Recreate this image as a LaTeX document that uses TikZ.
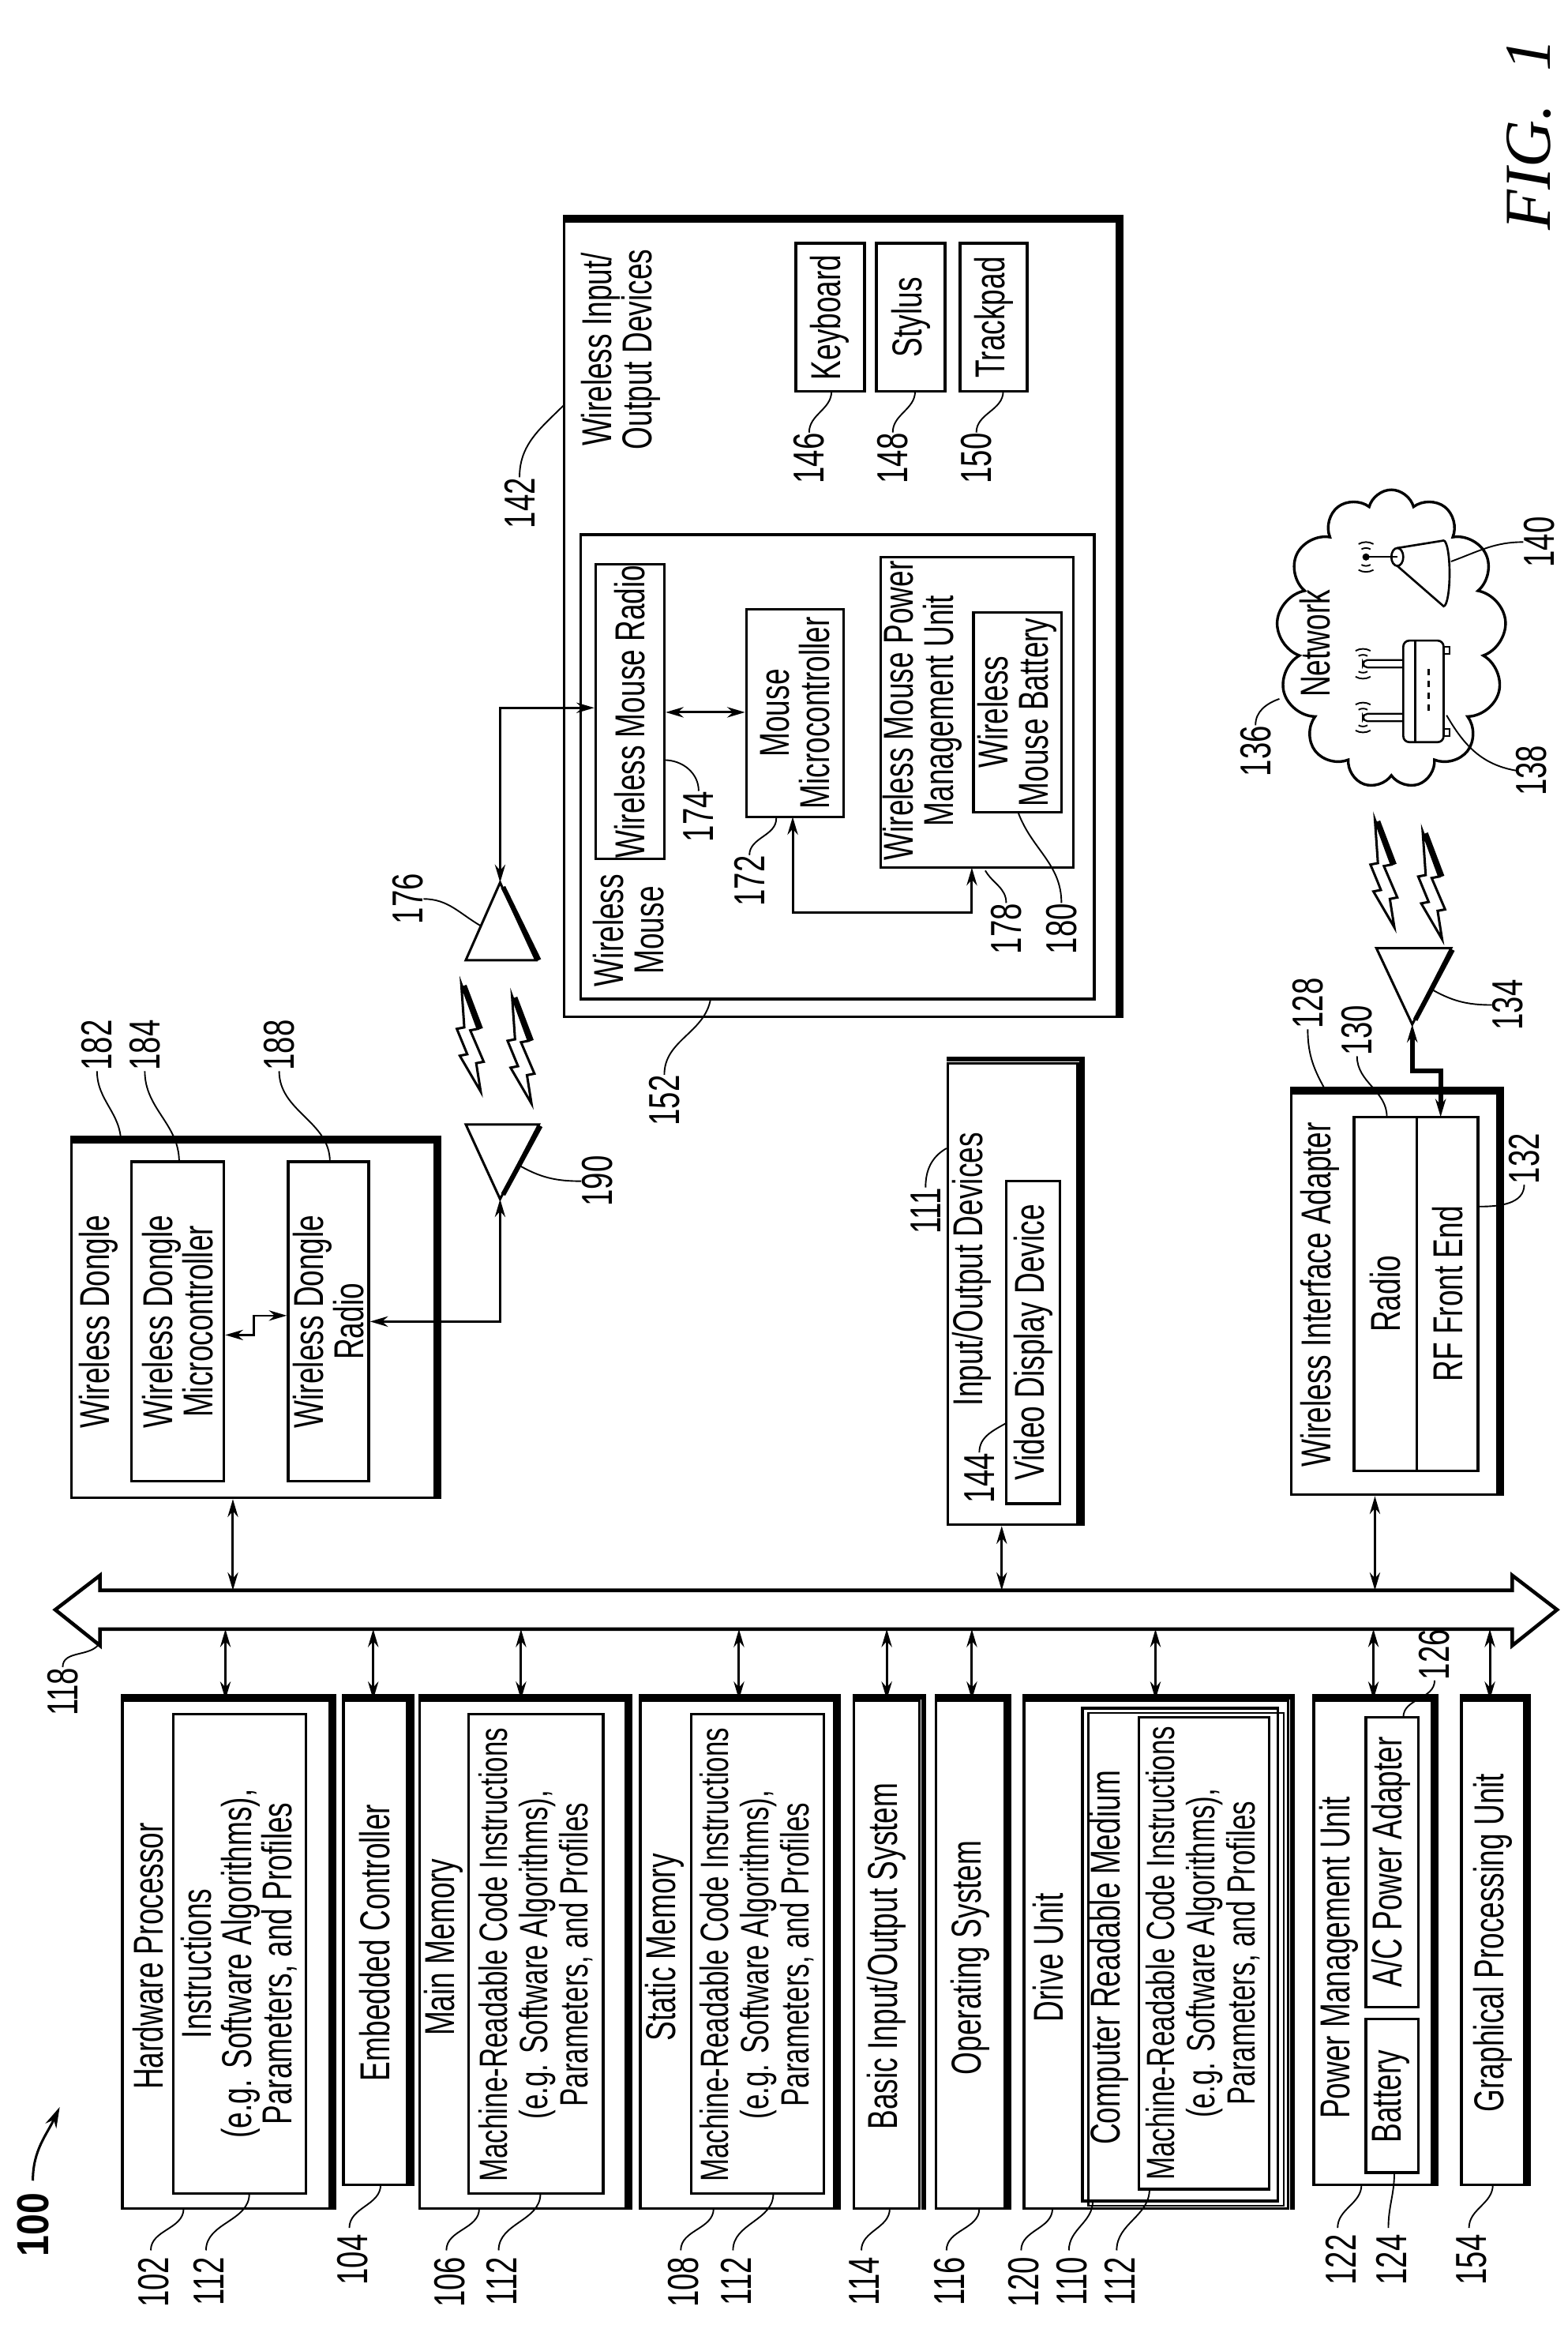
\documentclass[tikz,border=0pt]{standalone}
\usepackage{fontspec}
\setmainfont{Liberation Sans}
\newfontfamily\narrowf[FakeStretch=0.7]{Liberation Sans}
\newfontfamily\boldnf[FakeStretch=0.85]{Liberation Sans Bold}
\newfontfamily\figf{Liberation Serif}
\usetikzlibrary{fit,arrows.meta,shapes.symbols}
\begin{document}
\begin{tikzpicture}[x=0.5pt,y=-0.5pt,
  box/.style={draw,inner sep=0pt,line width=0.9pt},
  shd/.style={line width=1.7pt},
  lt/.style={rotate=90,font=\narrowf\fontsize{14}{13.5}\selectfont,align=center,inner sep=0pt},
  lts/.style={rotate=90,font=\narrowf\fontsize{13.2}{13.5}\selectfont,align=center,inner sep=0pt},
  ut/.style={rotate=90,font=\narrowf\fontsize{14}{13.5}\selectfont,align=center,inner sep=0pt},
  num/.style={rotate=90,font=\narrowf\fontsize{14.5}{15}\selectfont,inner sep=0pt},
  lead/.style={line width=0.5pt},
  arr/.style={line width=0.8pt,{Stealth[length=6pt,width=3.5pt]}-{Stealth[length=6pt,width=3.5pt]}}]
\useasboundingbox (0,0) rectangle (1050,1557);
\newcommand\bx[5]{\node[box,fit={(#2,#3)(#4,#5)}] (#1) {};}
\newcommand\sh[1]{\draw[shd] ([yshift=0.9pt]#1.north west) -- ([xshift=0.9pt,yshift=0.9pt]#1.north east) -- ([xshift=0.9pt]#1.south east);}
\newcommand\bolt[2]{\draw[line width=0.8pt,shift={(#1,#2)}] (4,0) -- (15,30) -- (10,31) -- (19,52) -- (14,53) -- (17,72) -- (3,48) -- (8,47) -- (1,30) -- (6,29) -- cycle;
 \draw[line width=1.6pt,shift={(#1,#2)}] (6,1) -- (17,30);}
% ---------- bus
\draw[line width=1.2pt] (37,1078) -- (67,1055) -- (67,1065) -- (1013,1065) -- (1013,1055) -- (1043,1078) -- (1013,1102) -- (1013,1091) -- (67,1091) -- (67,1102) -- cycle;
\coordinate (bus) at (540,1078);
% ---------- bottom boxes
\bx{hp}{82}{1139}{221}{1479}\sh{hp}\bx{hpi}{116}{1148}{205}{1469}
\bx{ec}{230}{1139}{273}{1463}\sh{ec}
\bx{mm}{281}{1139}{419}{1479}\sh{mm}\bx{mmi}{314}{1148}{404}{1469}
\bx{sm}{429}{1139}{559}{1479}\sh{sm}\bx{smi}{463}{1148}{552}{1469}
\bx{bios}{572}{1139}{616}{1479}\sh{bios}
\bx{os}{627}{1139}{673}{1479}\sh{os}
\bx{du}{686}{1139}{863}{1479}\sh{du}
\bx{crm}{725}{1144}{856}{1474}\draw[line width=0.6pt] (729,1147) rectangle (860,1477);
\bx{mrci}{763}{1150}{850}{1466}
\bx{pmu}{880}{1139}{959}{1463}\sh{pmu}\bx{bat}{915}{1352}{950}{1455}\bx{ac}{915}{1150}{950}{1344}
\bx{gpu}{979}{1139}{1021}{1463}\sh{gpu}
\node[lt] (thp) at (99,1310) {Hardware Processor};
\node[lt] (thpi) at (160,1315) {Instructions\\(e.g. Software Algorithms),\\Parameters, and Profiles};
\node[lt] (tec) at (251,1301) {Embedded Controller};
\node[lt] (tmm) at (297,1304) {Main Memory};
\node[lts] (tmmi) at (359,1309) {Machine-Readable Code Instructions\\(e.g. Software Algorithms),\\Parameters, and Profiles};
\node[lt] (tsm) at (445,1304) {Static Memory};
\node[lts] (tsmi) at (507,1309) {Machine-Readable Code Instructions\\(e.g. Software Algorithms),\\Parameters, and Profiles};
\node[lt] (tbios) at (594,1310) {Basic Input/Output System};
\node[lt] (tos) at (650,1311) {Operating System};
\node[lt] (tdu) at (702,1311) {Drive Unit};
\node[lt] (tcrm) at (743,1311) {Computer Readable Medium};
\node[lts] (tmrci) at (806,1308) {Machine-Readable Code Instructions\\(e.g. Software Algorithms),\\Parameters, and Profiles};
\node[lt] (tpmu) at (897,1311) {Power Management Unit};
\node[lt] (tbat) at (932,1404) {Battery};
\node[lt] (tac) at (932,1247) {A/C Power Adapter};
\node[lt] (tgpu) at (1000,1301) {Graphical Processing Unit};
% bus arrows (bottom)
\foreach \n/\x in {hp/151,ec/250,mm/349,sm/495,bios/594,os/651,du/774,pmu/920,gpu/998}{
  \coordinate (b\n) at (\x,1091);
  \draw[arr] (b\n) -- (b\n |- \n.north);}
% bottom numbers
\foreach \n/\x/\y/\t in {n102/103/1511/102,n112a/140/1511/112,n104/236/1496/104,n106/301/1511/106,n112b/336/1511/112,n108/458/1511/108,n112c/493/1511/112,n114/579/1511/114,n116/636/1511/116,n120/686/1511/120,n110/718/1511/110,n112d/750/1511/112,n122/898/1496/122,n124/932/1496/124,n154/986/1496/154}
  \node[num,anchor=east] (\n) at (\x,\y) {\t};
\foreach \n/\x/\y in {n102/123/1479,n112a/167/1469,n104/255/1463,n106/321/1479,n112b/362/1469,n108/478/1479,n112c/518/1469,n114/596/1479,n116/656/1479,n120/705/1479,n110/732/1474,n112d/770/1466,n122/912/1463,n124/934/1455,n154/1000/1463}
  \draw[lead] ([xshift=-1pt,yshift=2pt]\n.east) to[out=90,in=-90] (\x,\y);
% 118, 126, 100
\node[num] (n118) at (42,1133) {118};
\draw[lead] (n118.east) to[out=90,in=-120] (67,1100);
\node[num] (n126) at (961,1108) {126};
\draw[lead] (n126.west) to[out=-90,in=90] (940,1150);
\node[rotate=90,font=\boldnf\fontsize{15}{16}\selectfont,inner sep=0pt] (n100) at (22,1490) {100};
\coordinate (c100) at (40,1411);
\draw[line width=0.8pt,-{Stealth[length=7pt,width=4pt]}] ([yshift=4pt]n100.east) to[out=90,in=-115] (c100);
% ---------- wireless dongle
\bx{dg}{48}{765}{291}{1003}\sh{dg}
\bx{dmc}{88}{778}{150}{992}\bx{drad}{193}{778}{247}{992}
\node[ut] (tdg) at (66,885) {Wireless Dongle};
\node[ut] (tdmc) at (119,885) {Wireless Dongle\\Microcontroller};
\node[ut] (tdrad) at (220,885) {Wireless Dongle\\Radio};
\draw[arr,line width=0.6pt] (dmc.east |- 0,894) -- (170,894) -- (170,881) -- (drad.west |- 0,881);
\coordinate (bdg) at (156,1065);
\draw[arr] (bdg) -- (bdg |- dg.south);
% antenna 190
\coordinate (a190) at (335,803);
\draw[line width=0.8pt] (312,753) -- (361,753) -- (a190) -- cycle;
\draw[line width=1.6pt] (362,754) -- (337,800);
\draw[arr] (drad.east |- 0,885) -- (335,885) -- (a190);
% antenna 176
\coordinate (a176) at (335,591);
\draw[line width=0.8pt] (312,643) -- (359,643) -- (a176) -- cycle;
\draw[line width=1.6pt] (337,594) -- (361,643);
\bolt{305}{659}\bolt{339}{667}
\node[num] (n182) at (65,700) {182}; \draw[lead] (n182.west) to[out=-90,in=90] (81,765);
\node[num] (n184) at (97,700) {184}; \draw[lead] (n184.west) to[out=-90,in=90] (120,778);
\node[num] (n188) at (187,700) {188}; \draw[lead] (n188.west) to[out=-90,in=90] (221,778);
\node[num] (n190) at (400,791) {190}; \draw[lead] (n190.north) to[out=180,in=-30] (347,780);
\node[num] (n176) at (273,602) {176}; \draw[lead] (n176.south) to[out=0,in=150] (322,620);
% ---------- wireless I/O devices
\bx{wio}{378}{148}{748}{681}\sh{wio}
\bx{wm}{389}{358}{733}{669}
\bx{kb}{533}{163}{579}{262}\bx{sty}{587}{163}{633}{262}\bx{tpd}{643}{163}{688}{262}
\bx{wmr}{399}{378}{445}{575}\bx{mmc}{500}{408}{565}{547}
\bx{wpmu}{590}{373}{719}{581}\bx{wbat}{652}{410}{711}{544}
\node[ut] (twio) at (416,234) {Wireless Input/\\Output Devices};
\node[ut] (tkb) at (kb) {Keyboard};
\node[ut] (tsty) at (sty) {Stylus};
\node[ut] (ttpd) at (tpd) {Trackpad};
\node[ut] (twmr) at (wmr) {Wireless Mouse Radio};
\node[ut] (tmmc) at (mmc) {Mouse\\Microcontroller};
\node[ut] (twpmu) at (618,476) {Wireless Mouse Power\\Management Unit};
\node[ut] (twbat) at (wbat) {Wireless\\Mouse Battery};
\node[ut] (twm) at (421,623) {Wireless\\Mouse};
\draw[arr] (a176) -- (335,474) -- (wmr.west |- 0,474);
\draw[arr] (wmr.east |- 0,477) -- (mmc.west |- 0,477);
\draw[arr] (531,547) -- (531,611) -- (651,611) -- (651,581);
\node[num] (n142) at (348,337) {142}; \draw[lead] (n142.east) to[out=90,in=-135] (378,271);
\node[num] (n146) at (542,307) {146}; \draw[lead] (n146.east) to[out=90,in=-90] (557,262);
\node[num] (n148) at (598,307) {148}; \draw[lead] (n148.east) to[out=90,in=-90] (613,262);
\node[num] (n150) at (654,307) {150}; \draw[lead] (n150.east) to[out=90,in=-90] (672,262);
\node[num] (n152) at (445,737) {152}; \draw[lead] (n152.east) to[out=90,in=-100] (476,669);
\node[num] (n174) at (468,547) {174}; \draw[lead] (n174.east) to[out=90,in=0] (445,509);
\node[num] (n172) at (502,590) {172}; \draw[lead] (n172.east) to[out=90,in=-90] (520,548);
\node[num] (n178) at (674,622) {178}; \draw[lead] (n178.east) to[out=90,in=-60] (660,583);
\node[num] (n180) at (711,622) {180}; \draw[lead] (n180.east) to[out=90,in=-70] (682,544);
% ---------- I/O devices
\bx{io}{635}{712}{722}{1021}\sh{io}\bx{vdd}{674}{791}{710}{1007}
\node[ut] (tio) at (651,850) {Input/Output Devices};
\node[ut] (tvdd) at (vdd) {Video Display Device};
\coordinate (bio) at (671,1065);
\draw[arr] (bio) -- (bio |- io.south);
\node[num] (n111) at (620,811) {111}; \draw[lead] (n111.east) to[out=90,in=-150] (634,769);
\node[num] (n144) at (656,990) {144}; \draw[lead] (n144.east) to[out=90,in=-150] (674,953);
% ---------- wireless interface adapter
\bx{wia}{865}{732}{1003}{1001}\sh{wia}
\bx{rad}{907}{748}{949}{985}\bx{rf}{949}{748}{990}{985}
\node[ut] (twia) at (884,867) {Wireless Interface Adapter};
\node[ut] (trad) at (rad) {Radio};
\node[ut] (trf) at (rf) {RF Front End};
\coordinate (bwia) at (921,1065);
\draw[arr] (bwia) -- (bwia |- wia.south);
\coordinate (a134) at (946,686);
\draw[line width=0.8pt] (922,635) -- (972,635) -- (a134) -- cycle;
\draw[line width=1.6pt] (973,636) -- (948,683);
\draw[arr,line width=1.6pt] (a134) -- (946,717) -- (965,717) -- (965,748);
\bolt{917}{549}\bolt{949}{557}
\node[num] (n128) at (876,672) {128}; \draw[lead] (n128.west) to[out=-90,in=120] (889,732);
\node[num] (n130) at (909,690) {130}; \draw[lead] (n130.west) to[out=-90,in=90] (929,748);
\node[num] (n132) at (1021,776) {132}; \draw[lead] (n132.west) to[out=-90,in=0] (991,808);
\node[num] (n134) at (1010,673) {134}; \draw[lead] (n134.north) to[out=180,in=-30] (958,662);
% ---------- network
\node[cloud,cloud puffs=13,draw,line width=0.9pt,minimum width=77pt,minimum height=100pt,inner sep=0pt] (net) at (932,428) {};
\node[ut] (tnet) at (881,431) {Network};
\draw[line width=0.7pt,rounded corners=2pt] (940,429) rectangle (967,497);
\draw[line width=0.6pt] (948,429) -- (948,497);
\draw[line width=1pt,dash pattern=on 2pt off 2pt] (957,448) -- (957,478);
\draw[line width=0.6pt] (967,433) rectangle (971,438) (967,488) rectangle (971,493);
\draw[line width=0.6pt,rounded corners=1.5pt] (940,442) -- (913,442) -- (913,447) -- (940,447) (940,478) -- (913,478) -- (913,483) -- (940,483);
\foreach \yy in {444.5,480.5}{
  \foreach \r in {6,10}{
   \draw[line width=0.5pt] (913,\yy) ++(60:\r) arc (60:120:\r);
   \draw[line width=0.5pt] (913,\yy) ++(240:\r) arc (240:300:\r);}}
\fill (915,373) circle (1.2pt);
\draw[line width=0.6pt] (915,373) -- (936,373);
\draw[line width=0.7pt] (936,367) -- (967,362) arc (90:-90:2pt and 11pt) -- (936,379);
\draw[line width=0.7pt] (936,373) ellipse (2pt and 3pt);
\foreach \r in {6,10}{
   \draw[line width=0.5pt] (915,373) ++(60:\r) arc (60:120:\r);
   \draw[line width=0.5pt] (915,373) ++(240:\r) arc (240:300:\r);}
\node[num] (n136) at (841,503) {136}; \draw[lead] (n136.east) to[out=90,in=-160] (857,468);
\node[num] (n138) at (1026,516) {138}; \draw[lead] (n138.north) to[out=170,in=-60] (969,479);
\node[num] (n140) at (1031,363) {140}; \draw[lead] (n140.north) to[out=180,in=20] (972,376);
% ---------- FIG
\node[rotate=90,font=\figf\itshape\fontsize{22}{24}\selectfont,inner sep=0pt] (fig) at (1024,90) {FIG.\ \ 1};
\end{tikzpicture}
\end{document}
